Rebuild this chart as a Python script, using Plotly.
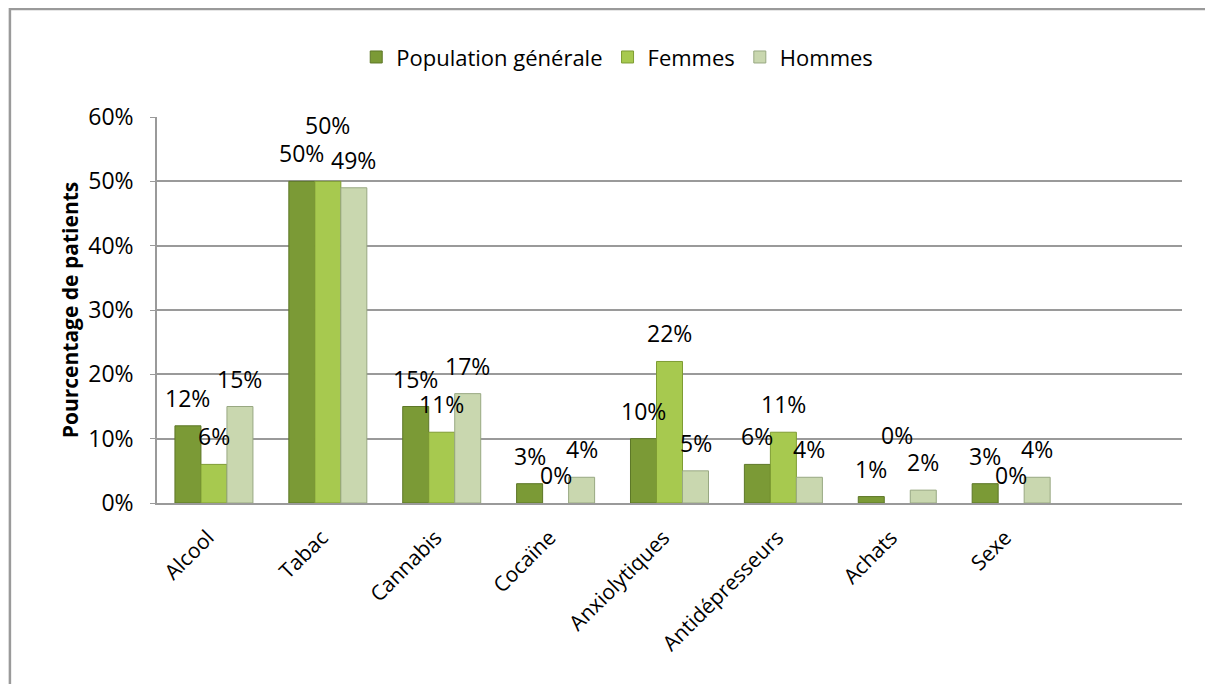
import plotly.graph_objects as go

categories = ["Alcool", "Tabac", "Cannabis", "Cocaïne", "Anxiolytiques",
              "Antidépresseurs", "Achats", "Sexe"]
series_names = ["Population générale", "Femmes", "Hommes"]
pop_generale = [12, 50, 15, 3, 10, 6, 1, 3]
femmes = [6, 50, 11, 0, 22, 11, 0, 0]
hommes = [15, 49, 17, 4, 5, 4, 2, 4]
y_ticks = [0, 10, 20, 30, 40, 50, 60]

colors = ["#7b9a36", "#a7c94f", "#c9d7af"]
edges = ["#5d7727", "#7e9c33", "#98a882"]
FONT = "Open Sans"
GAP = 0.315
bw = (1 - GAP) / 3

# labels Excel moved up to avoid overlaps (extra px)
label_lift = {("Tabac", "Femmes"): 28, ("Achats", "Femmes"): 40}

x = list(range(len(categories)))
fig = go.Figure()
for k, (name, vals) in enumerate(zip(series_names, [pop_generale, femmes, hommes])):
    fig.add_trace(go.Bar(
        x=x, y=vals, name=name,
        marker=dict(color=colors[k],
                    line=dict(color=edges[k], width=[1 if v else 0 for v in vals])),
    ))
    for i, v in enumerate(vals):
        fig.add_annotation(
            x=i + (k - 1) * bw, y=v, text=f"{v}%", showarrow=False,
            yshift=28 + label_lift.get((categories[i], name), 0),
            font=dict(family=FONT, size=23, color="black"),
        )

# cadre gris du graphique
fig.add_shape(type="rect", xref="paper", yref="paper",
              x0=-0.1435, y0=-2, x1=2, y1=1.2795,
              line=dict(color="#9a9a9a", width=2.5))

fig.update_layout(
    width=1213, height=684,
    margin=dict(l=149, r=39, t=109, b=189),
    paper_bgcolor="white", plot_bgcolor="white",
    barmode="group", bargap=GAP, bargroupgap=0,
    font=dict(family=FONT, size=20, color="black"),
    legend=dict(orientation="h", x=0.449, y=1.155, xanchor="center", yanchor="middle",
                font=dict(size=22), itemwidth=30, traceorder="normal"),
    xaxis=dict(range=[-0.5, 8.5], tickmode="array", tickvals=x, ticktext=categories,
               tickangle=-45, showgrid=False, showline=True, linecolor="#9a9a9a",
               linewidth=2, ticks="", tickfont=dict(size=21),
               ticklabelstandoff=12, ticklabelshift=-6),
    yaxis=dict(range=[0, 60], tickvals=y_ticks, ticktext=[f"{t}%" for t in y_ticks],
               showgrid=True, gridcolor="#9a9a9a", gridwidth=1.5,
               showline=True, linecolor="#9a9a9a", linewidth=1.5,
               ticks="outside", ticklen=5, tickcolor="#9a9a9a",
               tickfont=dict(size=23), zeroline=False, ticklabelstandoff=12,
               title=dict(text="<b>Pourcentage de patients</b>", font=dict(size=21), standoff=4)),
)

fig.write_html("out.html")
